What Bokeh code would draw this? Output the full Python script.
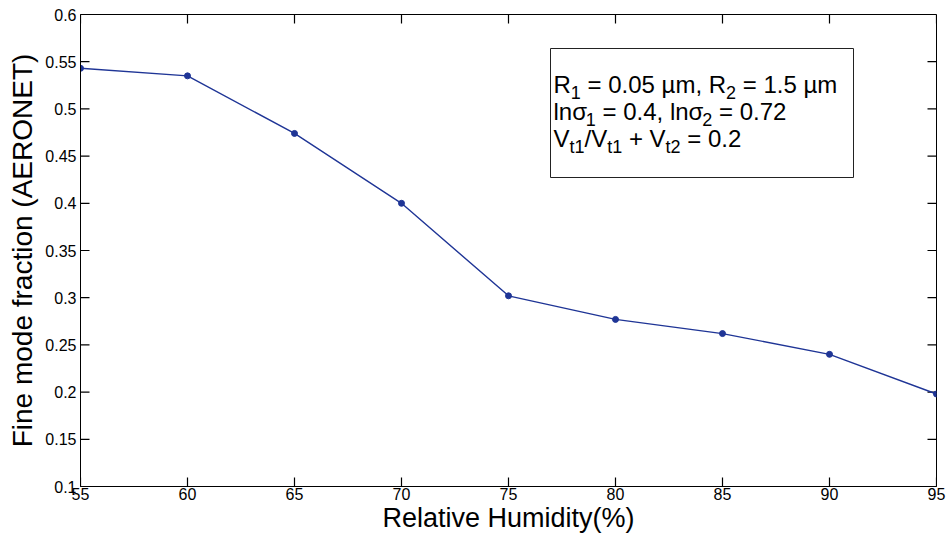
from bokeh.plotting import figure
from bokeh.models import FixedTicker, Label, BoxAnnotation, Range1d
from bokeh.embed import file_html
from bokeh.resources import INLINE

# ---- data ----
rh = [55, 60, 65, 70, 75, 80, 85, 90, 95]
fmf = [0.543, 0.535, 0.474, 0.400, 0.302, 0.277, 0.262, 0.240, 0.198]
x_ticks = [55, 60, 65, 70, 75, 80, 85, 90, 95]
y_ticks = [0.1, 0.15, 0.2, 0.25, 0.3, 0.35, 0.4, 0.45, 0.5, 0.55, 0.6]
y_tick_labels = ["0.1", "0.15", "0.2", "0.25", "0.3", "0.35", "0.4", "0.45", "0.5", "0.55", "0.6"]
x_label = "Relative Humidity(%)"
y_label = "Fine mode fraction (AERONET)"
NB = "\u00a0"
legend_lines = [
    [("R", 0), ("1", 1), (" = 0.05 \u00b5m, R", 0), ("2", 1), (" = 1.5 \u00b5m", 0)],
    [("ln\u03c3", 0), ("1", 1), (" = 0.4, ln\u03c3", 0), ("2", 1), (" = 0.72", 0)],
    [("V", 0), ("t1", 1), ("/V", 0), ("t1", 1), (" + V", 0), ("t2", 1), (" = 0.2", 0)],
]

FONT = "Liberation Sans"
FL, FT, FW, FH = 80, 14, 856, 472
XMIN, XMAX, YMIN, YMAX = 55, 95, 0.1, 0.6
TICK_PX = 9

def px2x(px):
    return XMIN + (px - FL) * (XMAX - XMIN) / FW

def px2y(py):
    return YMAX - (py - FT) * (YMAX - YMIN) / FH

p = figure(frame_width=FW, frame_height=FH, output_backend="svg", toolbar_location=None,
           x_range=Range1d(XMIN, XMAX), y_range=Range1d(YMIN, YMAX),
           min_border_left=FL, min_border_top=FT, min_border_right=14, min_border_bottom=54,
           background_fill_color="white", border_fill_color="white")
p.xgrid.visible = False
p.ygrid.visible = False
p.outline_line_color = "black"
p.outline_line_width = 1

overrides = {t: l for t, l in zip(y_ticks, y_tick_labels)}

def style_axis(ax, ticks):
    ax.ticker = FixedTicker(ticks=ticks)
    ax.major_tick_in = 0
    ax.major_tick_out = 0
    ax.minor_tick_line_color = None
    ax.axis_line_color = "black"
    ax.major_label_text_font = FONT
    ax.major_label_text_font_size = "16px"
    ax.major_label_text_color = "black"
    ax.axis_label_text_font = FONT
    ax.axis_label_text_font_style = "normal"
    ax.axis_label_text_color = "black"

xa = p.xaxis[0]
style_axis(xa, x_ticks)
xa.axis_label = x_label
xa.axis_label_text_font_size = "27px"
xa.major_label_standoff = 1
xa.axis_label_standoff = 0

ya = p.yaxis[0]
style_axis(ya, y_ticks)
ya.major_label_overrides = overrides
ya.axis_label = y_label
ya.axis_label_text_font_size = "28px"
ya.major_label_standoff = 4
ya.axis_label_standoff = 4

# inward tick marks on all four sides, drawn as multi_line paths
dx = TICK_PX * (XMAX - XMIN) / FW
dy = TICK_PX * (YMAX - YMIN) / FH
xs, ys = [], []
for t in x_ticks:
    xs += [[t, t], [t, t]]
    ys += [[YMIN, YMIN + dy], [YMAX, YMAX - dy]]
for t in y_ticks:
    xs += [[XMIN, XMIN + dx], [XMAX, XMAX - dx]]
    ys += [[t, t], [t, t]]
p.multi_line(xs=xs, ys=ys, line_color="black", line_width=1.2)

LINE_COLOR = "#1f3596"
p.line(rh, fmf, line_color=LINE_COLOR, line_width=1.4)
p.scatter(rh, fmf, size=6, fill_color=LINE_COLOR, line_color=LINE_COLOR)

# annotation box
p.add_layout(BoxAnnotation(left=px2x(550), right=px2x(853), top=px2y(48), bottom=px2y(177),
                           fill_color="white", fill_alpha=1.0, line_color="#222222",
                           line_width=1, line_alpha=1.0, level="overlay"))

W = {'R': 722, '0': 556, '1': 556, '2': 556, '4': 556, '5': 556, '7': 556, ' ': 278,
     '=': 584, '.': 278, ',': 278, '\u00b5': 576, 'm': 833, 'l': 222, 'n': 556,
     '\u03c3': 570, 'V': 667, 't': 278, '/': 278, '+': 584}

def tw(s, size):
    return sum(W.get(c, 556) for c in s) * size / 1000.0

BASE, SUB = 24, 18
baselines = [84, 111, 138]
for line, by in zip(legend_lines, baselines):
    xpx = 553
    for txt, sub in line:
        size = SUB if sub else BASE
        ypx = by + 8 if sub else by
        p.add_layout(Label(x=px2x(xpx), y=px2y(ypx), text=txt.replace(" ", NB), text_font=FONT,
                           text_font_size=f"{size}px", text_color="black",
                           text_baseline="alphabetic", text_align="left", level="overlay"))
        xpx += tw(txt, size)

open("out.html", "w").write(file_html(p, INLINE))
